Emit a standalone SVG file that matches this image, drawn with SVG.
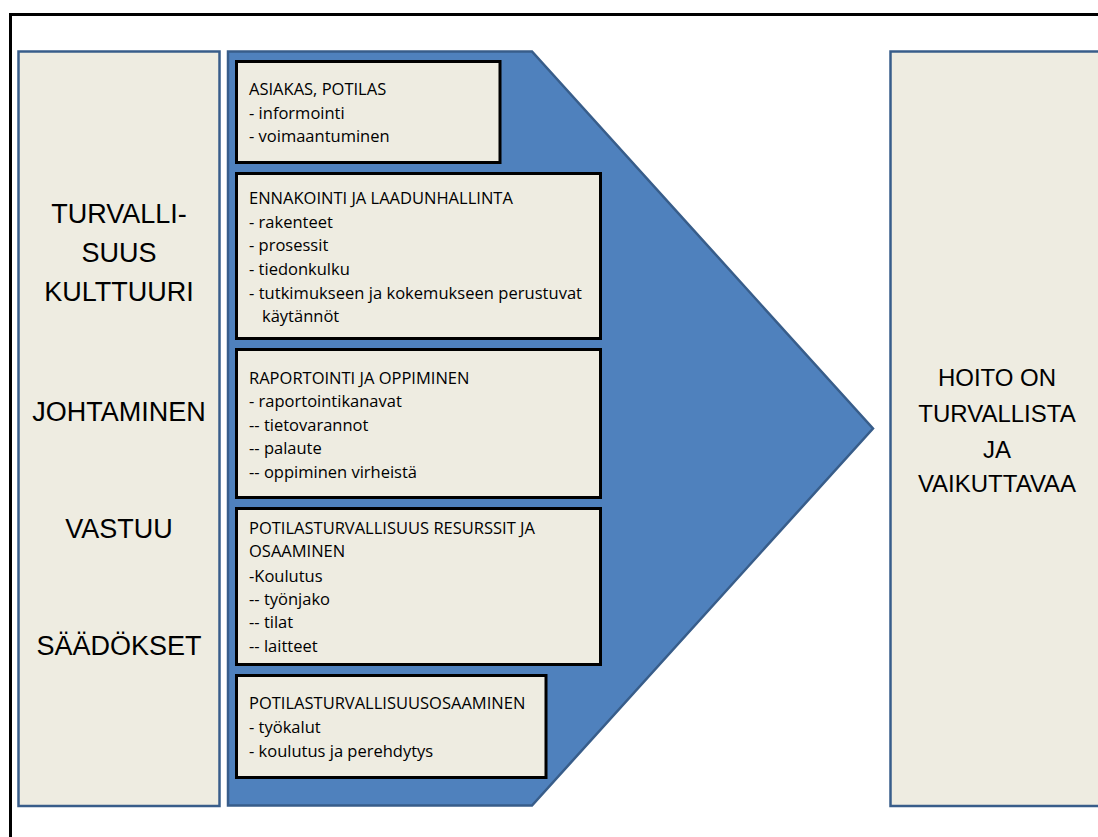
<svg xmlns="http://www.w3.org/2000/svg" width="1098" height="837" viewBox="0 0 1098 837">
  <style>
    .panel { fill: #EEECE1; stroke: #385D8A; stroke-width: 2.5; }
    .item { fill: #EEECE1; stroke: #000000; stroke-width: 3; }
    .big { font-family: "Liberation Sans", Arial, sans-serif; font-size: 27px; fill: #000; text-anchor: middle; }
    .out { font-family: "Liberation Sans", Arial, sans-serif; font-size: 24px; fill: #000; text-anchor: middle; }
    .txt { font-family: "Open Sans", "Liberation Sans", sans-serif; font-size: 16.5px; fill: #000; }
  </style>
  <rect x="0" y="0" width="1098" height="837" fill="#FFFFFF"/>

  <!-- outer frame, running past the right and bottom edges -->
  <rect x="10.5" y="14.5" width="1120" height="860" fill="none" stroke="#000" stroke-width="3"/>

  <!-- left column: foundations -->
  <g id="foundations">
    <rect class="panel" x="18.5" y="51.5" width="201" height="754.5"/>
    <text class="big" x="119" y="223">TURVALLI-</text>
    <text class="big" x="119" y="262">SUUS</text>
    <text class="big" x="119" y="301">KULTTUURI</text>
    <text class="big" x="119" y="421">JOHTAMINEN</text>
    <text class="big" x="119" y="538">VASTUU</text>
    <text class="big" x="119" y="655">SÄÄDÖKSET</text>
  </g>

  <!-- middle: arrow-shaped block -->
  <g id="arrow">
    <polygon points="228,51.5 532,51.5 873,428.5 532,805.5 228,805.5" fill="#4F81BD" stroke="#385D8A" stroke-width="2.5" stroke-linejoin="miter"/>
  </g>

  <g id="item-asiakas">
    <rect class="item" x="236.5" y="61.5" width="263.5" height="101"/>
    <text class="txt" x="249" y="95">ASIAKAS, POTILAS</text>
    <text class="txt" x="249" y="119">- informointi</text>
    <text class="txt" x="249" y="142">- voimaantuminen</text>
  </g>

  <g id="item-ennakointi">
    <rect class="item" x="236.5" y="173.5" width="364" height="165"/>
    <text class="txt" x="249" y="204">ENNAKOINTI JA LAADUNHALLINTA</text>
    <text class="txt" x="249" y="228">- rakenteet</text>
    <text class="txt" x="249" y="251">- prosessit</text>
    <text class="txt" x="249" y="275">- tiedonkulku</text>
    <text class="txt" x="249" y="299" textLength="333" lengthAdjust="spacing">- tutkimukseen ja kokemukseen perustuvat</text>
    <text class="txt" x="262" y="322">käytännöt</text>
  </g>

  <g id="item-raportointi">
    <rect class="item" x="236.5" y="349.5" width="364" height="148"/>
    <text class="txt" x="249" y="384">RAPORTOINTI JA OPPIMINEN</text>
    <text class="txt" x="249" y="407">- raportointikanavat</text>
    <text class="txt" x="249" y="431">-- tietovarannot</text>
    <text class="txt" x="249" y="454">-- palaute</text>
    <text class="txt" x="249" y="478">-- oppiminen virheistä</text>
  </g>

  <g id="item-resurssit">
    <rect class="item" x="236.5" y="508.5" width="364" height="156"/>
    <text class="txt" x="249" y="534">POTILASTURVALLISUUS RESURSSIT JA</text>
    <text class="txt" x="249" y="557">OSAAMINEN</text>
    <text class="txt" x="249" y="582">-Koulutus</text>
    <text class="txt" x="249" y="605">-- työnjako</text>
    <text class="txt" x="249" y="628">-- tilat</text>
    <text class="txt" x="249" y="652">-- laitteet</text>
  </g>

  <g id="item-osaaminen">
    <rect class="item" x="236.5" y="675.5" width="309.5" height="102"/>
    <text class="txt" x="249" y="709">POTILASTURVALLISUUSOSAAMINEN</text>
    <text class="txt" x="249" y="733">- työkalut</text>
    <text class="txt" x="249" y="757">- koulutus ja perehdytys</text>
  </g>

  <!-- right column: outcome -->
  <g id="outcome">
    <rect class="panel" x="890.5" y="51.5" width="214" height="754.5"/>
    <text class="out" x="997" y="386">HOITO ON</text>
    <text class="out" x="997" y="422">TURVALLISTA</text>
    <text class="out" x="997" y="458">JA</text>
    <text class="out" x="997" y="492">VAIKUTTAVAA</text>
  </g>

  <!-- no connectors in this figure -->
  <g id="connectors"/>
</svg>
